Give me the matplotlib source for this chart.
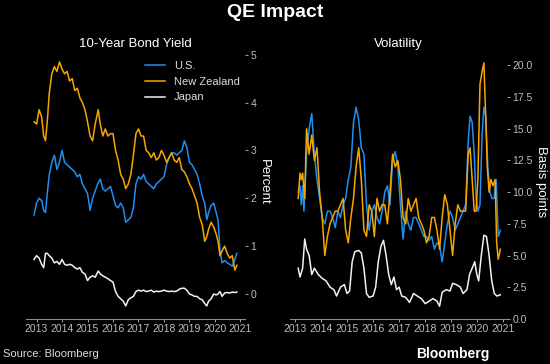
import numpy as np
import matplotlib
matplotlib.use("Agg")
import matplotlib.pyplot as plt

plt.rcParams['font.family'] = ['Liberation Sans', 'DejaVu Sans']

# 10-year bond yield, percent (decimal-year dates)
yield_us_t = [2012.9, 2013.0, 2013.1, 2013.2, 2013.28, 2013.35, 2013.42, 2013.5, 2013.6, 2013.7, 2013.8, 2013.9,
              2014.0, 2014.1, 2014.2, 2014.3, 2014.4, 2014.5, 2014.6, 2014.7, 2014.8, 2014.9, 2015.0, 2015.1,
              2015.2, 2015.3, 2015.4, 2015.5, 2015.6, 2015.7, 2015.8, 2015.9, 2016.0, 2016.1, 2016.2, 2016.3,
              2016.4, 2016.5, 2016.6, 2016.7, 2016.8, 2016.9, 2017.0, 2017.1, 2017.2, 2017.3, 2017.4, 2017.5,
              2017.6, 2017.7, 2017.8, 2017.9, 2018.0, 2018.1, 2018.2, 2018.3, 2018.4, 2018.5, 2018.6, 2018.7,
              2018.8, 2018.9, 2019.0, 2019.1, 2019.2, 2019.3, 2019.4, 2019.5, 2019.6, 2019.68, 2019.75, 2019.85,
              2019.95, 2020.05, 2020.12, 2020.2, 2020.28, 2020.38, 2020.48, 2020.58, 2020.68, 2020.78, 2020.86]
yield_us = [1.65, 1.9, 2.0, 1.95, 1.75, 1.7, 2.1, 2.5, 2.75, 2.9, 2.6, 2.75,
            3.0, 2.75, 2.7, 2.65, 2.6, 2.55, 2.45, 2.5, 2.3, 2.2, 2.1, 1.75,
            2.0, 2.15, 2.3, 2.4, 2.2, 2.15, 2.2, 2.25, 2.05, 1.85, 1.8, 1.9,
            1.8, 1.5, 1.55, 1.6, 1.8, 2.3, 2.45, 2.4, 2.5, 2.35, 2.3, 2.25,
            2.2, 2.3, 2.35, 2.4, 2.45, 2.7, 2.85, 2.95, 2.95, 2.9, 2.95, 3.0,
            3.2, 3.05, 2.75, 2.7, 2.6, 2.5, 2.3, 2.05, 1.9, 1.55, 1.7, 1.85,
            1.9, 1.7, 1.55, 0.9, 0.65, 0.7, 0.65, 0.62, 0.58, 0.72, 0.85]

yield_nz_t = [2012.9, 2013.0, 2013.1, 2013.2, 2013.28, 2013.35, 2013.42, 2013.5, 2013.6, 2013.7, 2013.8, 2013.9,
              2014.0, 2014.1, 2014.2, 2014.3, 2014.4, 2014.5, 2014.6, 2014.7, 2014.8, 2014.9, 2015.0, 2015.1,
              2015.2, 2015.3, 2015.42, 2015.5, 2015.6, 2015.7, 2015.8, 2015.9, 2016.0, 2016.1, 2016.2, 2016.3,
              2016.4, 2016.5, 2016.6, 2016.7, 2016.8, 2016.9, 2017.0, 2017.1, 2017.2, 2017.3, 2017.4, 2017.5,
              2017.6, 2017.7, 2017.8, 2017.9, 2018.0, 2018.1, 2018.2, 2018.3, 2018.4, 2018.5, 2018.6, 2018.7,
              2018.8, 2018.9, 2019.0, 2019.1, 2019.2, 2019.3, 2019.4, 2019.5, 2019.6, 2019.68, 2019.75, 2019.85,
              2019.95, 2020.05, 2020.12, 2020.2, 2020.28, 2020.38, 2020.48, 2020.58, 2020.68, 2020.78, 2020.86]
yield_nz = [3.6, 3.55, 3.85, 3.7, 3.3, 3.2, 3.6, 4.2, 4.6, 4.75, 4.65, 4.85,
            4.7, 4.6, 4.65, 4.45, 4.5, 4.25, 4.3, 4.1, 4.0, 3.85, 3.6, 3.3,
            3.2, 3.55, 3.85, 3.55, 3.3, 3.45, 3.3, 3.35, 3.35, 3.0, 2.8, 2.5,
            2.4, 2.2, 2.3, 2.5, 2.9, 3.35, 3.45, 3.3, 3.3, 3.0, 2.95, 2.85,
            2.95, 2.8, 2.85, 3.0, 2.9, 2.75, 2.85, 2.95, 2.8, 2.75, 2.85, 2.6,
            2.55, 2.45, 2.3, 2.2, 2.05, 1.9, 1.6, 1.45, 1.1, 1.2, 1.35, 1.5,
            1.4, 1.25, 1.1, 0.8, 0.9, 1.0, 0.85, 0.75, 0.8, 0.5, 0.6]

yield_jp_t = [2012.9, 2013.0, 2013.1, 2013.2, 2013.28, 2013.35, 2013.42, 2013.5, 2013.6, 2013.7, 2013.8, 2013.9,
              2014.0, 2014.1, 2014.2, 2014.3, 2014.4, 2014.5, 2014.6, 2014.7, 2014.8, 2014.9, 2015.0, 2015.1,
              2015.2, 2015.3, 2015.42, 2015.5, 2015.6, 2015.7, 2015.8, 2015.9, 2016.0, 2016.1, 2016.2, 2016.3,
              2016.4, 2016.5, 2016.6, 2016.7, 2016.8, 2016.9, 2017.0, 2017.1, 2017.2, 2017.3, 2017.4, 2017.5,
              2017.6, 2017.7, 2017.8, 2017.9, 2018.0, 2018.1, 2018.2, 2018.3, 2018.4, 2018.5, 2018.6, 2018.7,
              2018.8, 2018.9, 2019.0, 2019.1, 2019.2, 2019.3, 2019.4, 2019.5, 2019.6, 2019.68, 2019.75, 2019.85,
              2019.95, 2020.05, 2020.12, 2020.2, 2020.28, 2020.38, 2020.48, 2020.58, 2020.68, 2020.78, 2020.86]
yield_jp = [0.72, 0.8, 0.75, 0.62, 0.55, 0.85, 0.85, 0.8, 0.75, 0.65, 0.68, 0.62,
            0.72, 0.62, 0.6, 0.62, 0.6, 0.55, 0.52, 0.55, 0.45, 0.42, 0.28, 0.35,
            0.38, 0.35, 0.48, 0.42, 0.38, 0.35, 0.32, 0.28, 0.25, 0.05, -0.05, -0.1,
            -0.15, -0.25, -0.12, -0.08, -0.05, 0.05, 0.08, 0.06, 0.08, 0.05, 0.06, 0.08,
            0.04, 0.06, 0.05, 0.06, 0.08, 0.06, 0.05, 0.06, 0.05, 0.06, 0.1, 0.12,
            0.12, 0.08, 0.0, -0.02, -0.05, -0.05, -0.1, -0.12, -0.2, -0.25, -0.15, -0.1,
            0.0, -0.02, 0.0, 0.05, -0.05, 0.02, 0.03, 0.02, 0.04, 0.03, 0.04]

# volatility, basis points
vol_us_t = [2013.13, 2013.2, 2013.25, 2013.3, 2013.35, 2013.45, 2013.55, 2013.65, 2013.75, 2013.85, 2013.95,
            2014.05, 2014.15, 2014.25, 2014.35, 2014.45, 2014.55, 2014.65, 2014.75, 2014.85, 2014.95, 2015.05,
            2015.15, 2015.25, 2015.35, 2015.45, 2015.55, 2015.65, 2015.75, 2015.85, 2015.95, 2016.05, 2016.15,
            2016.25, 2016.35, 2016.45, 2016.55, 2016.65, 2016.75, 2016.85, 2016.95, 2017.05, 2017.15, 2017.25,
            2017.35, 2017.45, 2017.55, 2017.65, 2017.75, 2017.85, 2017.95, 2018.05, 2018.15, 2018.25, 2018.35,
            2018.45, 2018.55, 2018.65, 2018.75, 2018.85, 2018.95, 2019.05, 2019.15, 2019.25, 2019.35, 2019.45,
            2019.55, 2019.65, 2019.72, 2019.8, 2019.88, 2019.95, 2020.02, 2020.1, 2020.18, 2020.25, 2020.32,
            2020.4, 2020.48, 2020.56, 2020.64, 2020.72, 2020.8, 2020.88]
vol_us = [10.0, 10.5, 9.0, 10.5, 8.5, 13.0, 15.0, 16.2, 13.0, 11.0, 9.5,
          8.0, 7.5, 8.5, 8.5, 8.0, 7.2, 8.5, 8.0, 9.0, 9.5, 11.0,
          12.0, 15.5, 16.7, 15.7, 13.5, 13.0, 9.0, 7.0, 8.5, 9.0, 8.0,
          7.5, 8.5, 10.0, 10.5, 9.0, 12.5, 13.2, 12.0, 9.0, 6.3, 8.5,
          7.5, 7.0, 8.0, 8.0, 7.5, 7.0, 6.5, 6.5, 6.2, 6.5, 5.5,
          6.0, 5.8, 4.5, 6.0, 7.5, 8.5, 8.0, 7.0, 7.5, 8.0, 8.5,
          9.0, 14.0, 16.0, 15.5, 13.0, 9.5, 8.5, 9.0, 14.5, 16.7, 16.0,
          12.0, 10.0, 9.5, 9.5, 11.0, 6.5, 7.0]

vol_nz_t = [2013.13, 2013.2, 2013.25, 2013.3, 2013.38, 2013.45, 2013.55, 2013.65, 2013.75, 2013.85, 2013.95,
            2014.05, 2014.15, 2014.25, 2014.35, 2014.45, 2014.55, 2014.65, 2014.75, 2014.85, 2014.95, 2015.05,
            2015.15, 2015.25, 2015.35, 2015.45, 2015.55, 2015.65, 2015.75, 2015.85, 2015.95, 2016.05, 2016.15,
            2016.25, 2016.35, 2016.45, 2016.55, 2016.65, 2016.75, 2016.85, 2016.95, 2017.05, 2017.15, 2017.25,
            2017.35, 2017.45, 2017.55, 2017.65, 2017.75, 2017.85, 2017.95, 2018.05, 2018.15, 2018.25, 2018.35,
            2018.45, 2018.55, 2018.65, 2018.75, 2018.85, 2018.95, 2019.05, 2019.15, 2019.25, 2019.35, 2019.45,
            2019.55, 2019.65, 2019.72, 2019.8, 2019.88, 2019.95, 2020.02, 2020.1, 2020.18, 2020.25, 2020.32,
            2020.38, 2020.45, 2020.52, 2020.6, 2020.68, 2020.74, 2020.8, 2020.88]
vol_nz = [9.5, 11.5, 11.0, 11.5, 9.5, 15.0, 13.0, 14.5, 12.5, 13.5, 10.0,
          8.0, 5.0, 6.5, 7.5, 8.0, 8.5, 8.5, 9.0, 9.5, 7.0, 6.0,
          8.0, 9.5, 12.0, 13.5, 11.0, 7.0, 6.5, 9.0, 8.5, 6.5, 9.5,
          8.5, 9.0, 9.0, 7.5, 10.0, 13.0, 12.0, 12.5, 11.0, 8.0, 7.5,
          9.5, 8.5, 9.0, 9.5, 8.0, 7.5, 7.0, 6.0, 6.5, 8.0, 8.0,
          7.0, 5.5, 8.0, 9.8, 9.0, 7.0, 5.0, 7.5, 9.0, 8.5, 8.5,
          8.5, 13.0, 13.5, 11.0, 8.5, 8.5, 11.0, 18.5, 19.5, 20.2, 16.0,
          12.0, 10.0, 11.0, 10.5, 11.0, 6.0, 4.7, 5.5]

vol_jp_t = [2013.13, 2013.2, 2013.3, 2013.38, 2013.45, 2013.55, 2013.65, 2013.75, 2013.9, 2014.05, 2014.2,
            2014.35, 2014.5, 2014.6, 2014.75, 2014.9, 2015.0, 2015.1, 2015.2, 2015.3, 2015.45, 2015.55,
            2015.65, 2015.75, 2015.85, 2016.0, 2016.1, 2016.2, 2016.3, 2016.4, 2016.5, 2016.6, 2016.7,
            2016.8, 2016.9, 2017.0, 2017.1, 2017.25, 2017.4, 2017.55, 2017.7, 2017.85, 2018.0, 2018.15,
            2018.3, 2018.45, 2018.55, 2018.65, 2018.8, 2018.95, 2019.05, 2019.2, 2019.35, 2019.45, 2019.6,
            2019.7, 2019.8, 2019.9, 2019.98, 2020.05, 2020.15, 2020.25, 2020.35, 2020.45, 2020.55, 2020.65,
            2020.75, 2020.88]
vol_jp = [4.0, 3.3, 4.0, 6.3, 5.5, 5.0, 3.5, 4.0, 3.5, 3.2, 3.0,
          2.5, 2.3, 1.8, 2.5, 2.7, 2.0, 2.2, 4.5, 5.3, 5.4, 5.2,
          4.0, 2.0, 1.7, 1.8, 2.5, 4.5, 5.7, 6.2, 5.0, 3.5, 2.7,
          3.3, 2.3, 2.5, 1.8, 1.7, 1.3, 2.0, 1.8, 1.6, 1.2, 1.4,
          1.6, 1.4, 1.0, 2.1, 2.3, 2.2, 2.8, 2.7, 2.5, 2.0, 2.3,
          3.5, 4.0, 4.5, 3.5, 3.0, 5.0, 6.6, 6.5, 5.0, 3.0, 2.0,
          1.8, 1.9]

years = list(range(2013, 2022))
blue = '#1f8ff0'
orange = '#f7a600'
white = '#f2f2f2'
tick_col = '#bdbdbd'

fig = plt.figure(figsize=(5.5, 3.64), dpi=100, facecolor='black')
ax1 = fig.add_axes([0.047, 0.124, 0.398, 0.752])
ax2 = fig.add_axes([0.527, 0.124, 0.395, 0.752])

for ax in (ax1, ax2):
    ax.set_facecolor('black')
    for s in ('top', 'left', 'right'):
        ax.spines[s].set_visible(False)
    ax.spines['bottom'].set_color('#8a8a8a')
    ax.spines['bottom'].set_linewidth(0.8)
    ax.yaxis.tick_right()
    ax.tick_params(axis='both', colors=tick_col, labelsize=7.5, length=2.5, width=0.6, pad=1.5)
    ax.set_xticks(years)
    ax.set_xticklabels([str(y) for y in years])

ax1.plot(yield_us_t, yield_us, color=blue, lw=1.1, label='U.S.')
ax1.plot(yield_nz_t, yield_nz, color=orange, lw=1.1, label='New Zealand')
ax1.plot(yield_jp_t, yield_jp, color=white, lw=1.1, label='Japan')
ax1.set_xlim(2012.58, 2021.17)
ax1.set_ylim(-0.52, 5.2)
ax1.set_yticks([0, 1, 2, 3, 4, 5])
ax1.set_ylabel('Percent', color='white', fontsize=9.5, rotation=270, labelpad=10)
ax1.yaxis.set_label_position('right')
leg = ax1.legend(loc='upper left', bbox_to_anchor=(0.515, 0.965), frameon=False, fontsize=8,
                 handlelength=1.8, labelspacing=0.5, borderaxespad=0.2)
for t in leg.get_texts():
    t.set_color('#dddddd')

ax2.plot(vol_us_t, vol_us, color=blue, lw=1.1)
ax2.plot(vol_nz_t, vol_nz, color=orange, lw=1.1)
ax2.plot(vol_jp_t, vol_jp, color=white, lw=1.1)
ax2.set_xlim(2012.81, 2021.14)
ax2.set_ylim(0, 21.6)
ax2.set_yticks(np.arange(0, 20.1, 2.5))
ax2.set_yticklabels([f'{v:.1f}' for v in np.arange(0, 20.1, 2.5)])
ax2.set_ylabel('Basis points', color='white', fontsize=9.5, rotation=270, labelpad=10)
ax2.yaxis.set_label_position('right')

fig.text(0.5, 0.965, 'QE Impact', color='white', fontsize=14, fontweight='bold', ha='center', va='center')
fig.text(0.246, 0.878, '10-Year Bond Yield', color='white', fontsize=9.5, ha='center', va='center')
fig.text(0.725, 0.878, 'Volatility', color='white', fontsize=9.5, ha='center', va='center')
fig.text(0.005, 0.027, 'Source: Bloomberg', color='#dddddd', fontsize=8, ha='left', va='center')
fig.text(0.89, 0.027, 'Bloomberg', color='white', fontsize=10, fontweight='bold', ha='right', va='center')

fig.savefig('out.png', dpi=100, facecolor='black')
